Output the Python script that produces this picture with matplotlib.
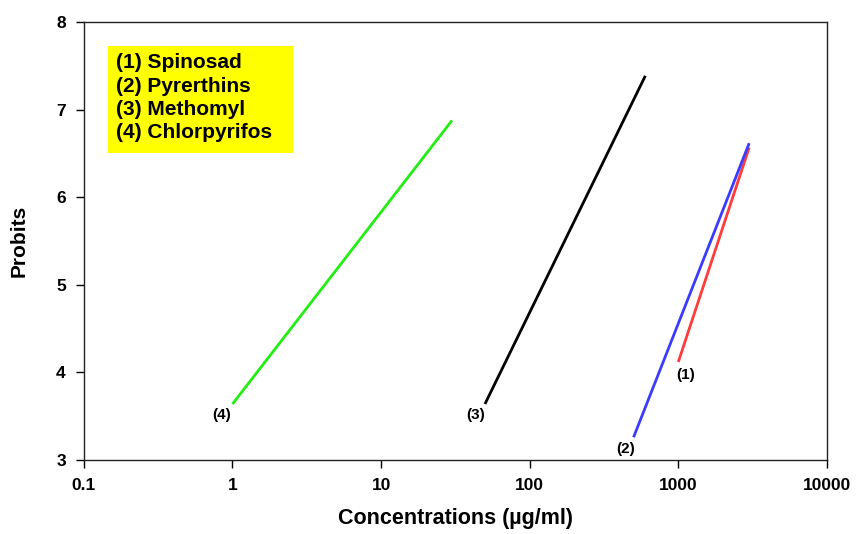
import matplotlib
matplotlib.use("Agg")
import matplotlib.pyplot as plt
from matplotlib.patches import Rectangle

plt.rcParams['font.family'] = ['Liberation Sans', 'DejaVu Sans']

# Data
names = ["(1) Spinosad", "(2) Pyrerthins", "(3) Methomyl", "(4) Chlorpyrifos"]
tags = ["(1)", "(2)", "(3)", "(4)"]
x_start = [1000, 500, 50, 1]
x_end = [3000, 3000, 600, 30]
y_start = [4.12, 3.26, 3.64, 3.64]
y_end = [6.57, 6.62, 7.39, 6.88]
tag_x = [1125, 444, 43.5, 0.85]
tag_y = [3.97, 3.13, 3.51, 3.51]
colors = ["#FF3B3B", "#3B3BFF", "#000000", "#22EE11"]
x_ticks = [0.1, 1, 10, 100, 1000, 10000]
x_tick_labels = ["0.1", "1", "10", "100", "1000", "10000"]
y_ticks = [3, 4, 5, 6, 7, 8]

fig = plt.figure(figsize=(8.56, 5.34), dpi=100)
ax = fig.add_axes([0.098, 0.1386, 0.868, 0.8194])

for i in range(len(names)):
    ax.plot([x_start[i], x_end[i]], [y_start[i], y_end[i]], color=colors[i],
            lw=2.0, solid_capstyle='butt')
    ax.text(tag_x[i], tag_y[i], tags[i], ha='center', va='center',
            fontsize=11, fontweight='bold')

ax.set_xscale('log')
ax.set_xlim(0.1, 10000)
ax.set_ylim(3, 8)
ax.set_xticks(x_ticks)
ax.set_xticklabels(x_tick_labels)
ax.minorticks_off()
ax.set_yticks(y_ticks)
ax.tick_params(axis='both', direction='out', length=6, width=1.0,
               labelsize=12.5, pad=7)
for lab in ax.get_xticklabels() + ax.get_yticklabels():
    lab.set_fontweight('bold')
for sp in ax.spines.values():
    sp.set_linewidth(1.0)
    sp.set_color('#222222')

ax.set_xlabel("Concentrations (µg/ml)", fontsize=15.5, fontweight='bold', labelpad=11)
ax.set_ylabel("Probits", fontsize=15, fontweight='bold', labelpad=20)

# Legend box
fig.patches.append(Rectangle((108 / 856, 1 - 153 / 534), 185 / 856, 107 / 534,
                             transform=fig.transFigure, facecolor='#FFFF00',
                             edgecolor='none', zorder=5))
for i, n in enumerate(names):
    fig.text(116 / 856, 1 - (63 + i * 23.3) / 534, n, fontsize=15,
             fontweight='bold', va='center', ha='left', zorder=6)

fig.savefig("out.png", dpi=100)
